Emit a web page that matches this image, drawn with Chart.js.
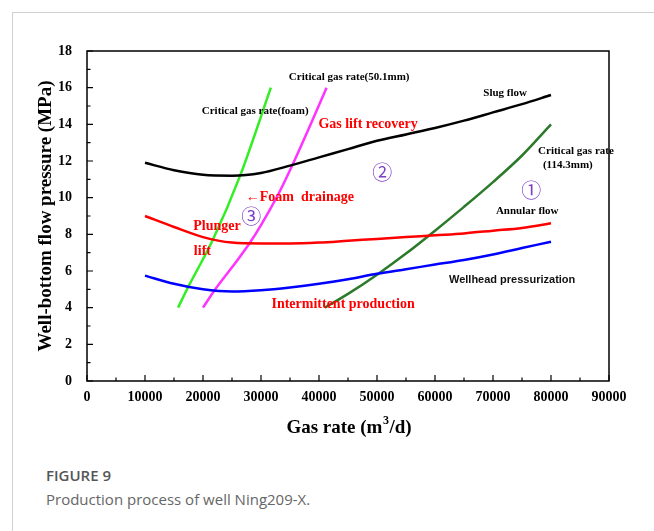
<!DOCTYPE html>
<html>
<head>
<meta charset="utf-8">
<script src="https://cdn.jsdelivr.net/npm/chart.js@4"></script>
<style>
  body { margin: 0; background: #fff; }
  #wrap { position: relative; width: 654px; height: 531px; overflow: hidden; }
  #card { position: absolute; left: 12px; top: 12px; width: 660px; height: 540px;
          border-left: 1px solid #d0d0d0; border-top: 1px solid #d0d0d0; }
  #box { position: absolute; left: 0; top: 0; width: 654px; height: 440px; }
  .cap1 { position: absolute; left: 46px; top: 465px; font: 600 15px "Open Sans", sans-serif; color: #555; }
  .cap2 { position: absolute; left: 46px; top: 489px; font: 400 15px "Open Sans", sans-serif; color: #666; }
</style>
</head>
<body>
<div id="wrap">
  <div id="card"></div>
  <div id="box"><canvas id="c"></canvas></div>
  <div class="cap1">FIGURE 9</div>
  <div class="cap2">Production process of well Ning209-X.</div>
</div>
<script>
// gas rate samples for the three pressure curves (m3/d)
const rates = [10000, 15000, 20000, 25000, 30000, 35000, 40000, 45000, 50000, 55000, 60000, 65000, 70000, 75000, 80000];
const slugFlow = [11.9, 11.5, 11.25, 11.2, 11.35, 11.75, 12.2, 12.65, 13.1, 13.45, 13.8, 14.2, 14.65, 15.1, 15.6];
const plungerLift = [9.0, 8.4, 7.85, 7.55, 7.5, 7.5, 7.55, 7.65, 7.75, 7.85, 7.95, 8.05, 8.2, 8.35, 8.6];
const wellhead = [5.75, 5.3, 5.0, 4.88, 4.95, 5.1, 5.3, 5.55, 5.85, 6.1, 6.35, 6.6, 6.9, 7.25, 7.6];

// critical gas rate lines
const foamX = [15700, 17400, 21700, 26400, 31700];
const foamY = [4, 5.1, 7.7, 11.2, 16];
const tube50X = [20000, 22000, 25000, 28000, 30000, 33000, 35300, 38000, 41300];
const tube50Y = [4, 4.95, 6.2, 7.5, 8.5, 10.2, 11.7, 13.6, 16];
const tube114X = [41000, 45000, 50000, 55000, 60000, 65000, 70000, 75000, 80000];
const tube114Y = [4, 4.75, 5.8, 6.95, 8.2, 9.5, 10.85, 12.3, 14.0];

const xTicks = [0, 10000, 20000, 30000, 40000, 50000, 60000, 70000, 80000, 90000];
const yTicks = [0, 2, 4, 6, 8, 10, 12, 14, 16, 18];

const pts = (xs, ys) => xs.map((x, i) => ({ x: x, y: ys[i] }));

const serifB = '"Liberation Serif", "Times New Roman", serif';
const circ = '20px "Noto Sans CJK SC", sans-serif';
const notes = [
  { t: 'Critical gas rate(50.1mm)', x: 45200, y: 16.6, c: '#000', f: 'bold 11px ' + serifB },
  { t: 'Critical gas rate(foam)', x: 29000, y: 14.7, c: '#000', f: 'bold 11px ' + serifB },
  { t: 'Gas lift recovery', x: 48450, y: 14.0, c: '#ff0000', f: 'bold 14px ' + serifB },
  { t: 'Slug flow', x: 72100, y: 15.7, c: '#000', f: 'bold 11px ' + serifB },
  { t: 'Critical gas rate', x: 84300, y: 12.55, c: '#000', f: 'bold 11px ' + serifB },
  { t: '(114.3mm)', x: 82900, y: 11.8, c: '#000', f: 'bold 11px ' + serifB },
  { t: '②', x: 50900, y: 11.4, c: '#7a3fc8', f: circ },
  { t: '①', x: 76600, y: 10.42, c: '#7a3fc8', f: circ },
  { t: 'Annular flow', x: 75900, y: 9.27, c: '#000', f: 'bold 11px ' + serifB },
  { t: '←Foam  drainage', x: 36700, y: 10.0, c: '#ff0000', f: 'bold 14px ' + serifB },
  { t: '③', x: 28300, y: 9.0, c: '#7a3fc8', f: circ },
  { t: 'Plunger', x: 22400, y: 8.45, c: '#ff0000', f: 'bold 14px ' + serifB },
  { t: 'lift', x: 19900, y: 7.05, c: '#ff0000', f: 'bold 14px ' + serifB },
  { t: 'Intermittent production', x: 44150, y: 4.2, c: '#ff0000', f: 'bold 14px ' + serifB },
  { t: 'Wellhead pressurization', x: 73300, y: 5.5, c: '#111', f: '600 11px "Liberation Sans", Arial, sans-serif' }
];

const frame = {
  id: 'frame',
  afterDatasetsDraw(chart) {
    const { ctx, chartArea: a, scales: { x, y } } = chart;
    ctx.save();
    ctx.strokeStyle = '#000';
    ctx.lineWidth = 1.5;
    ctx.strokeRect(a.left, a.top, a.right - a.left, a.bottom - a.top);
    ctx.lineWidth = 1.2;
    ctx.beginPath();
    for (let v = 0; v <= 90000; v += 5000) {
      const px = x.getPixelForValue(v);
      const len = v % 10000 === 0 ? 6 : 3.5;
      ctx.moveTo(px, a.bottom); ctx.lineTo(px, a.bottom - len);
    }
    for (let v = 0; v <= 18; v += 1) {
      const py = y.getPixelForValue(v);
      const len = v % 2 === 0 ? 6 : 3.5;
      ctx.moveTo(a.left, py); ctx.lineTo(a.left + len, py);
    }
    ctx.stroke();

    ctx.textAlign = 'center';
    ctx.textBaseline = 'middle';
    notes.forEach(n => {
      ctx.font = n.f;
      ctx.fillStyle = n.c;
      ctx.fillText(n.t, x.getPixelForValue(n.x), y.getPixelForValue(n.y));
    });

    // axis titles
    ctx.fillStyle = '#000';
    ctx.font = 'bold 19px ' + serifB;
    const a1 = 'Gas rate (m', a2 = '/d)';
    const w1 = ctx.measureText(a1).width, w2 = ctx.measureText(a2).width;
    const x0 = 349 - (w1 + w2 + 7) / 2;
    ctx.textAlign = 'left';
    ctx.fillText(a1, x0, 428);
    ctx.fillText(a2, x0 + w1 + 7, 428);
    ctx.font = 'bold 12px ' + serifB;
    ctx.fillText('3', x0 + w1 + 0.5, 421);
    ctx.textAlign = 'center';
    ctx.font = 'bold 19px ' + serifB;
    ctx.translate(46, 216);
    ctx.rotate(-Math.PI / 2);
    ctx.fillText('Well-bottom flow pressure (MPa)', 0, 0);
    ctx.restore();
  }
};

const line = (data, color, w) => ({
  data: data, borderColor: color, borderWidth: w || 2.5, pointRadius: 0,
  cubicInterpolationMode: 'monotone', fill: false
});

new Chart(document.getElementById('c'), {
  type: 'line',
  data: {
    datasets: [
      line(pts(rates, slugFlow), '#000000'),
      line(pts(rates, plungerLift), '#ff0000'),
      line(pts(rates, wellhead), '#0000ff'),
      line(pts(foamX, foamY), '#33ee22'),
      line(pts(tube50X, tube50Y), '#ff33ff'),
      line(pts(tube114X, tube114Y), '#2a7a2a')
    ]
  },
  options: {
    responsive: true,
    maintainAspectRatio: false,
    animation: false,
    layout: { padding: { left: 0, right: 45, top: 51, bottom: 0 } },
    plugins: { legend: { display: false }, tooltip: { enabled: false } },
    scales: {
      x: {
        type: 'linear', min: 0, max: 90000,
        afterBuildTicks: s => { s.ticks = xTicks.map(v => ({ value: v })); },
        afterFit: s => { s.height = 59; },
        grid: { display: false },
        border: { display: false },
        ticks: { color: '#000', padding: 0, maxRotation: 0, callback: v => String(v),
                 font: { family: serifB, size: 14, weight: 'bold' } }
      },
      y: {
        min: 0, max: 18,
        afterBuildTicks: s => { s.ticks = yTicks.map(v => ({ value: v })); },
        afterFit: s => { s.width = 87; },
        grid: { display: false },
        border: { display: false },
        ticks: { color: '#000', padding: 7, font: { family: serifB, size: 14, weight: 'bold' } }
      }
    }
  },
  plugins: [frame]
});
</script>
</body>
</html>
